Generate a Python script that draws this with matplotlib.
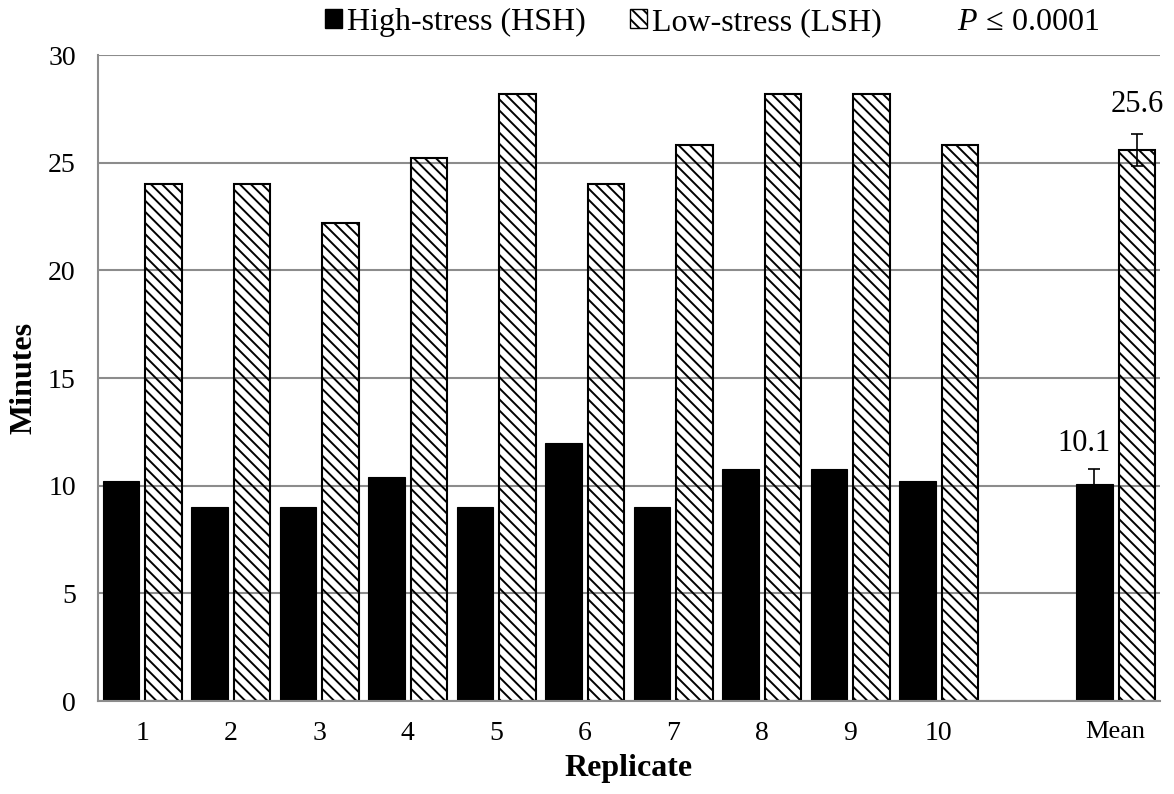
import numpy as np
import matplotlib

matplotlib.use("Agg")
import matplotlib.pyplot as plt
from matplotlib.patches import Patch

replicates = ["1", "2", "3", "4", "5", "6", "7", "8", "9", "10", "", "Mean"]
high_stress = [10.2, 9.0, 9.0, 10.4, 9.0, 12.0, 9.0, 10.8, 10.8, 10.2, np.nan, 10.1]
low_stress = [24.0, 24.0, 22.2, 25.2, 28.2, 24.0, 25.8, 28.2, 28.2, 25.8, np.nan, 25.6]
mean_err_high = 0.7
mean_err_low = 0.75

plt.rcParams["font.family"] = ["Liberation Serif", "DejaVu Serif"]
plt.rcParams["mathtext.fontset"] = "custom"
plt.rcParams["mathtext.rm"] = "Liberation Serif"
plt.rcParams["mathtext.it"] = "Liberation Serif:italic"
plt.rcParams["hatch.linewidth"] = 1.4

grid_gray = "#8c8c8c"
hatch = "\\\\\\"
x = np.arange(1, len(replicates) + 1)
width = 0.41
offset = 0.24

fig = plt.figure(figsize=(11.74, 7.94), dpi=100)
ax = fig.add_axes([0.0835, 0.117, 0.9045, 0.8137])

ax.bar(x - offset, high_stress, width, color="black", edgecolor="black",
       linewidth=0.8, zorder=2)
ax.bar(x + offset, low_stress, width, facecolor="none", edgecolor="black",
       hatch=hatch, linewidth=1.5, zorder=2)

# error bars on the mean only
mean_x = x[-1]
ax.errorbar([mean_x - offset], [high_stress[-1]], yerr=mean_err_high, fmt="none",
            ecolor="black", elinewidth=1.2, capsize=4, capthick=1.2, zorder=3)
ax.errorbar([mean_x + offset], [low_stress[-1]], yerr=mean_err_low, fmt="none",
            ecolor="black", elinewidth=1.2, capsize=4, capthick=1.2, zorder=3)
ax.text(mean_x - offset - 0.12, high_stress[-1] + mean_err_high + 0.5,
        f"{high_stress[-1]:.1f}", ha="center", va="bottom", fontsize=22)
ax.text(mean_x + offset, low_stress[-1] + mean_err_low + 0.7,
        f"{low_stress[-1]:.1f}", ha="center", va="bottom", fontsize=22)

ax.set_xlim(0.5, len(replicates) + 0.5)
ax.set_ylim(0, 30)
ax.set_yticks(np.arange(0, 31, 5))
ax.set_xticks(x)
ax.set_xticklabels(replicates)
ax.tick_params(axis="both", length=0, labelsize=20)
ax.tick_params(axis="x", pad=14)
ax.tick_params(axis="y", pad=16)
ax.get_xticklabels()[-1].set_fontsize(19)

ax.yaxis.grid(True, color=grid_gray, linewidth=1.5, zorder=0)
ax.set_axisbelow(True)
for side in ("top", "right"):
    ax.spines[side].set_visible(False)
for side in ("left", "bottom"):
    ax.spines[side].set_color(grid_gray)
    ax.spines[side].set_linewidth(1.5)

ax.set_xlabel("Replicate", fontsize=23, fontweight="bold", labelpad=6)
ax.set_ylabel("Minutes", fontsize=23, fontweight="bold", labelpad=7)

handles = [
    Patch(facecolor="black", edgecolor="black", label="High-stress (HSH)"),
    Patch(facecolor="white", edgecolor="black", hatch=hatch, linewidth=1.0,
          label="Low-stress (LSH)"),
]
fig.legend(handles=handles, loc="center", bbox_to_anchor=(0.514, 0.972), ncol=2,
           frameon=False, fontsize=23, handlelength=0.53, handleheight=0.53,
           handletextpad=0.15, columnspacing=1.4)
fig.text(0.876, 0.972, r"$P$$\,\leq\,$0.0001", ha="center", va="center", fontsize=23)

fig.savefig("out.png", dpi=100)
